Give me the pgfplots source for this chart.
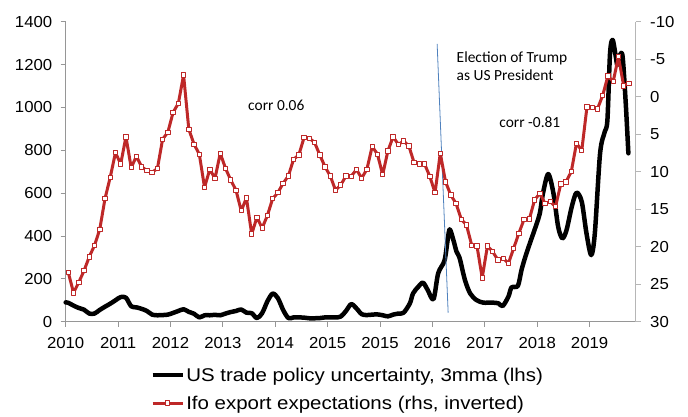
\documentclass[border=0pt]{standalone}
\usepackage{fontspec}
\setmainfont{Liberation Sans}[FakeStretch=1.05]
\newfontfamily\legfont{Liberation Sans}[FakeStretch=1.11]
\newfontfamily\calibri{Carlito}
\usepackage{pgfplots}
\pgfplotsset{compat=1.18}
\usepackage{pgfplotstable}
\definecolor{ifored}{RGB}{190,40,40}
\definecolor{axgray}{RGB}{150,150,150}
\definecolor{trumpblue}{RGB}{79,129,189}

\pgfplotstableread{
i v
1 23.46
2 26.14
3 24.74
4 23.2
5 21.34
6 19.83
7 17.69
8 13.6
9 10.74
10 7.46
11 8.97
12 5.34
13 9.46
14 7.94
15 9.34
16 9.86
17 10.06
18 9.6
19 5.66
20 4.74
21 2.09
22 0.89
23 -2.89
24 4.34
25 6.34
26 7.66
27 12.09
28 9.69
29 10.89
30 7.54
31 9.54
32 11.11
33 12.46
34 15.2
35 13.51
36 18.31
37 16.09
38 17.51
39 15.83
40 13.6
41 12.8
42 11.54
43 10.57
44 8.34
45 7.77
46 5.43
47 5.54
48 6.09
49 7.77
50 9.34
51 10.57
52 12.46
53 11.77
54 10.57
55 10.6
56 9.71
57 10.86
58 9.66
59 6.63
60 7.66
61 10.4
62 7.23
63 5.34
64 6.37
65 5.91
66 6.57
67 8.8
68 8.97
69 8.97
70 10.63
71 12.8
72 7.54
73 11.34
74 13.11
75 14.23
76 16.34
77 17.11
78 19.8
79 19.91
80 24.14
81 19.91
82 20.66
83 21.77
84 21.54
85 22.23
86 20.23
87 18.2
88 16.34
89 16.31
90 13.77
91 12.89
92 14.23
93 14.0
94 14.66
95 11.63
96 11.34
97 10.0
98 6.2
99 7.2
100 1.34
101 1.43
102 1.63
103 -0.17
104 -2.77
105 -2.0
106 -5.34
107 -1.46
108 -1.8
}\ifotable

\pgfplotstableread{
u v
0 90
0.5 88
1.5 75
2.5 64
3.5 56
4.5 38
5.5 38
6.5 55
7.5 70
8.5 84
9.5 100
10.5 115
11.5 112
12.5 72
13.5 67
14.5 60
15.5 50
16.5 33
17.5 30
18.5 31
19.5 33
20.5 41
21.5 50
22.5 58
23.5 46
24.5 37
25.5 20
26.5 30
27.5 30
28.5 32
29.5 30
30.5 38
31.5 45
32.5 50
33.5 57
34.5 42
35.5 40
36.5 17
37.5 40
38.5 95
39.5 131
40.5 110
41.5 55
42.5 17
43.5 20
44.5 20
45.5 19
46.5 16
47.5 16
48.5 17
49.5 20
50.5 20
51.5 20
52.5 24
53.5 50
54.5 82
55.5 62
56.5 35
57.5 31
58.5 33
59.5 34
60.5 30
61.5 25
62.5 33
63.5 38
64.5 42
65.7 86
66.3 132
67.3 163
68.2 182
69.1 148
70.2 105
71.1 226
72.3 285
72.9 381
73.3 431
74.0 381
74.6 327
75.2 296
76.2 195
77.2 132
78.4 101
79.7 89
81.3 89
82.6 86
83.4 73
84.5 117
85.1 160
86.3 167
87.0 241
87.7 300
88.6 366
89.6 436
90.5 506
91.1 599
92.1 689
93.1 599
94.0 443
94.8 389
95.6 428
96.6 537
97.5 602
98.5 560
99.4 413
100.3 311
101.0 413
102.0 786
102.9 887
103.4 941
103.9 1252
104.4 1315
105.0 1237
105.3 1198
105.8 1245
106.3 1237
106.9 1019
107.4 786
}\tputable

\begin{document}
\begin{tikzpicture}
\useasboundingbox (-65.7bp,-95.3bp) rectangle (622.3bp,321.7bp);
\begin{axis}[
  at={(0,0)}, anchor=south west,
  scale only axis, width=570bp, height=300bp,
  xmin=0, xmax=108.8, ymin=0, ymax=1400,
  axis x line*=bottom, axis y line*=left,
  xtick={0,10,...,100},
  xticklabels={2010,2011,2012,2013,2014,2015,2015,2016,2017,2018,2019},
  ytick={0,200,...,1400},
  tick align=outside, major tick length=5bp,
  tick style={axgray, line width=0.8bp},
  axis line style={axgray, line width=0.8bp, -},
  ticklabel style={font=\fontsize{16}{19}\selectfont},
  xticklabel style={yshift=-7bp},
  yticklabel style={xshift=-5bp},
  /pgf/number format/assume math mode=true,
  /pgf/number format/1000 sep={},
  clip=false,
]
\addplot[black, line width=4.5bp, smooth, tension=0.5, line join=round, line cap=round] table[x=u,y=v]{\tputable};
\addplot[trumpblue, line width=0.8bp] coordinates {(70.9,1296) (73.0,42)};
\node[font=\calibri\fontsize{15.5}{18}\selectfont] at (axis cs:40.2,1011) {corr 0.06};
\node[font=\calibri\fontsize{15.5}{18.3}\selectfont, anchor=north west, align=left, inner sep=0pt] at (axis cs:74.6,1262) {Election of Trump\\as US President};
\node[font=\calibri\fontsize{15.5}{18}\selectfont] at (axis cs:88.6,929) {corr -0.81};
\end{axis}
\begin{axis}[
  at={(0,0)}, anchor=south west,
  scale only axis, width=570bp, height=300bp,
  xmin=0, xmax=108.8, ymin=-10, ymax=30, y dir=reverse,
  axis y line*=right, axis x line=none,
  ytick={-10,-5,...,30},
  tick align=outside, major tick length=5bp,
  tick style={axgray!70, line width=0.8bp},
  axis line style={axgray!70, line width=0.8bp, -},
  ticklabel style={font=\fontsize{16}{19}\selectfont},
  yticklabel style={xshift=6bp},
  /pgf/number format/assume math mode=true,
  legend cell align=left,
  legend style={draw=none, fill=none, at={(0.148,-0.148)}, anchor=north west,
    font=\legfont\fontsize{18.5}{21}\selectfont, row sep=10bp, inner sep=0pt,
    nodes={inner sep=1.5bp}},
  legend image code/.code={\draw[mark repeat=2,mark phase=2,#1] plot coordinates {(0bp,0bp) (15bp,0bp) (30bp,0bp)};},
]
\addlegendimage{black, line width=4.5bp}
\addlegendentry{US trade policy uncertainty, 3mma (lhs)}
\addplot[ifored, line width=3bp, line join=round, mark=square*, mark size=2.2bp,
  mark options={fill=white, draw=ifored, line width=0.9bp}]
  table[x expr=\thisrow{i}-0.5, y=v]{\ifotable};
\addlegendentry{Ifo export expectations (rhs, inverted)}
\end{axis}
\end{tikzpicture}
\end{document}
